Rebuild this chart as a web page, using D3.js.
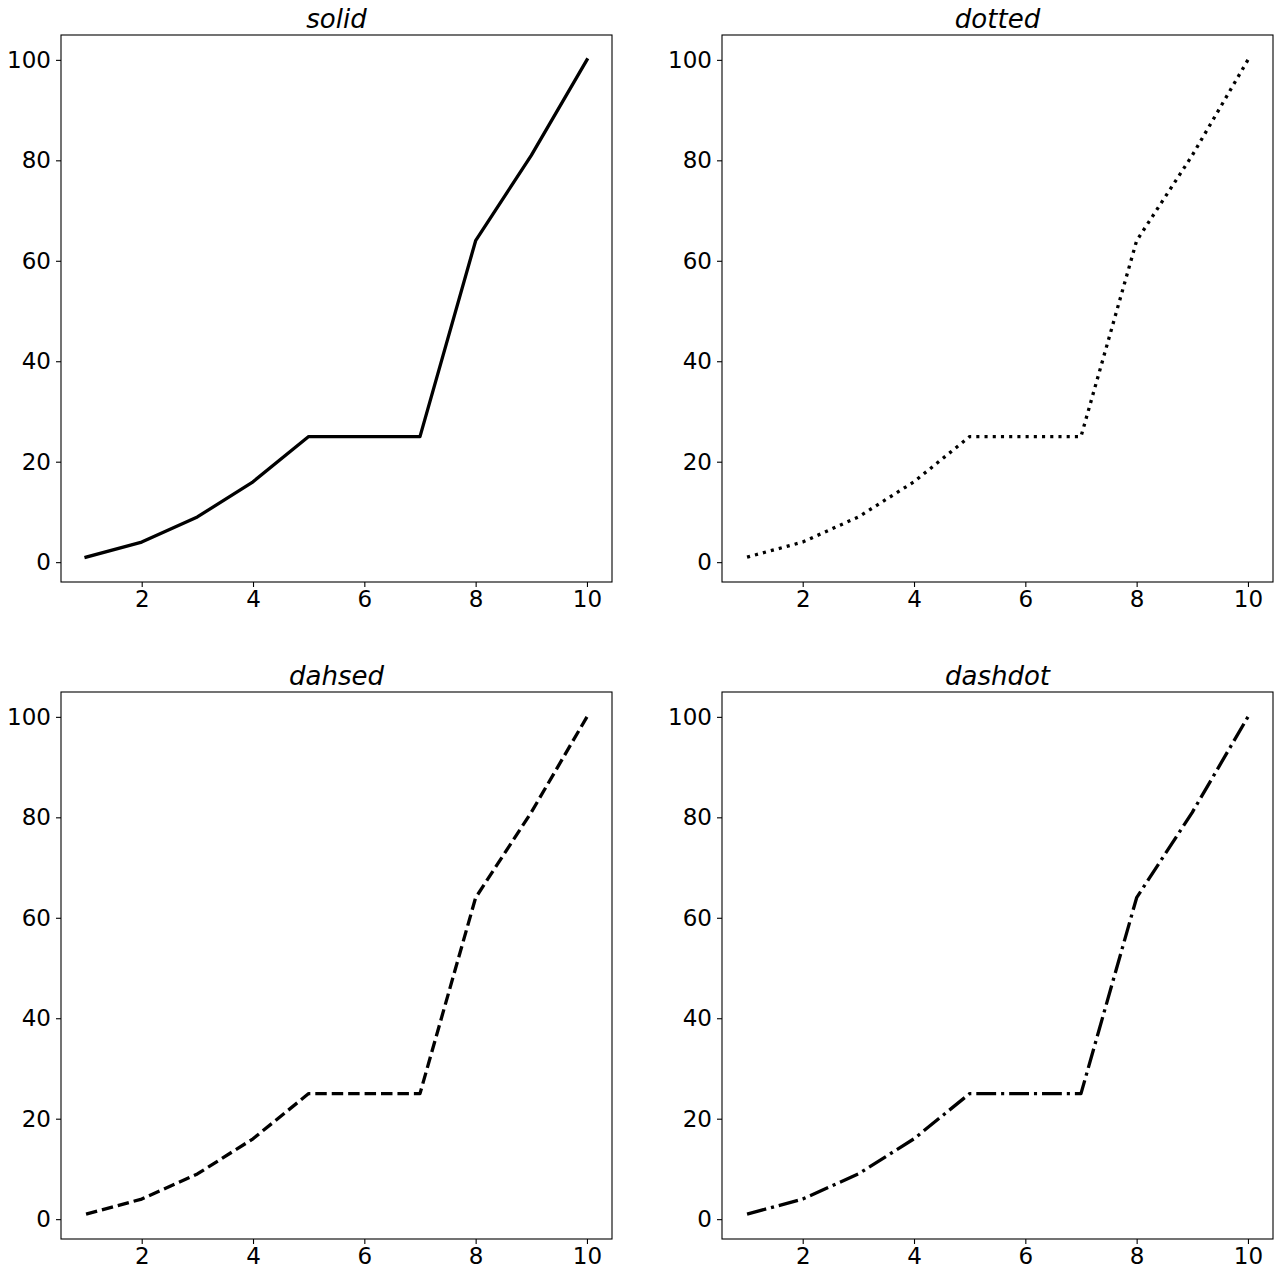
<!DOCTYPE html>
<html>
<head>
<meta charset="utf-8">
<script src="https://cdn.jsdelivr.net/npm/d3@7"></script>
<style>
  body { margin: 0; background: #fff; }
  svg { display: block; }
  .tick text { font-family: "DejaVu Sans", sans-serif; font-size: 23px; fill: #000; }
  .tick line { stroke: #000; stroke-width: 1.1; }
  .domain { display: none; }
</style>
</head>
<body>
<svg id="chart"></svg>
<script>
// data
var xValues = [1, 2, 3, 4, 5, 6, 7, 8, 9, 10];
var yValues = [1, 4, 9, 16, 25, 25, 25, 64, 81, 100];
var titles = ["solid", "dotted", "dahsed", "dashdot"];
var xTicks = [2, 4, 6, 8, 10];
var yTicks = [0, 20, 40, 60, 80, 100];

var WIDTH = 1280, HEIGHT = 1276;
var LW = 3.3, DU = 3.1;
// matplotlib style dash patterns scaled by line width
var dashes = [null, [1 * DU, 1.65 * DU], [3.7 * DU, 1.6 * DU], [6.4 * DU, 1.6 * DU, 1 * DU, 1.6 * DU]];

var cols = [61, 722], rows = [35, 692];
var pw = 551, ph = 547;

var svg = d3.select("#chart").attr("width", WIDTH).attr("height", HEIGHT);

var xPad = (d3.max(xValues) - d3.min(xValues)) * 0.05;
var yPad = (d3.max(yValues) - d3.min(yValues)) * 0.05;

titles.forEach(function (t, i) {
	var left = cols[i % 2], top = rows[Math.floor(i / 2)];
	var g = svg.append("g").attr("transform", "translate(" + left + "," + top + ")");

	var x = d3.scaleLinear()
		.domain([d3.min(xValues) - xPad, d3.max(xValues) + xPad])
		.range([0, pw]);
	var y = d3.scaleLinear()
		.domain([d3.min(yValues) - yPad, d3.max(yValues) + yPad])
		.range([ph, 0]);

	g.append("g")
		.attr("transform", "translate(0," + ph + ")")
		.call(d3.axisBottom(x).tickValues(xTicks).tickSize(5).tickSizeOuter(0).tickPadding(4));

	g.append("g")
		.call(d3.axisLeft(y).tickValues(yTicks).tickSize(5).tickSizeOuter(0).tickPadding(5));

	var line = d3.line()
		.x(function (d, j) { return x(xValues[j]); })
		.y(function (d) { return y(d); });

	var path = g.append("path")
		.datum(yValues)
		.attr("d", line)
		.style("fill", "none")
		.style("stroke", "#000")
		.style("stroke-width", LW)
		.style("stroke-linejoin", "round")
		.style("stroke-linecap", i === 0 ? "square" : "butt");
	if (dashes[i]) path.style("stroke-dasharray", dashes[i].join(","));

	// frame
	g.append("rect")
		.attr("x", 0).attr("y", 0)
		.attr("width", pw).attr("height", ph)
		.style("fill", "none")
		.style("stroke", "#000")
		.style("stroke-width", 1.1);

	g.append("text")
		.attr("x", pw / 2)
		.attr("y", -7)
		.attr("text-anchor", "middle")
		.style("font-family", "DejaVu Sans, sans-serif")
		.style("font-style", "italic")
		.style("font-size", "26px")
		.text(t);
});
</script>
</body>
</html>
